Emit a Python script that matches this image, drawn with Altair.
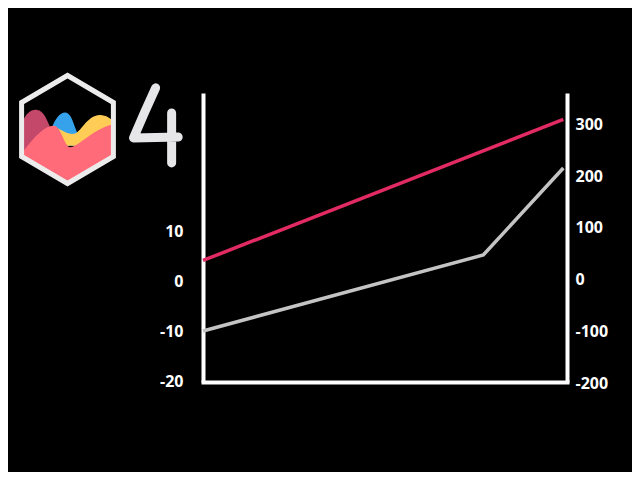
import altair as alt
import pandas as pd

# ---- data ----
x_points = [0, 77, 99]
grey_values = [-10, 5.2, 22.6]        # left axis
red_x = [0, 99]
red_values = [33.5, 305]              # right axis
left_ticks = [-20, -10, 0, 10]
right_ticks = [-200, -100, 0, 100, 200, 300]

grey_df = pd.DataFrame({"x": x_points, "v": grey_values})
red_df = pd.DataFrame({"x": red_x, "v": red_values})
one = pd.DataFrame({"a": [0]})

W, H = 364, 289

x_scale = alt.Scale(domain=[0, 100], nice=False, zero=False)
x_axis = alt.Axis(title=None, labels=False, ticks=False, grid=False,
                  domainColor="white", domainWidth=4, domainCap="square")

label_style = dict(labelColor="white", labelFont="Open Sans", labelFontWeight="bold",
                   labelFontSize=16, labelFlush=False, labelOverlap=False, labelBound=False,
                   labelExpr="datum.value < 0 ? '-' + abs(datum.value) : '' + datum.value")

grey = alt.Chart(grey_df).mark_line(color="#c4c4c4", strokeWidth=3.5).encode(
    x=alt.X("x:Q", scale=x_scale, axis=x_axis),
    y=alt.Y("v:Q", scale=alt.Scale(domain=[-20.2, 37.6], nice=False, zero=False),
            axis=alt.Axis(orient="left", values=left_ticks, title=None, ticks=False, grid=False,
                          domainColor="white", domainWidth=4, labelPadding=20, **label_style)),
)

red = alt.Chart(red_df).mark_line(color="#e22a63", strokeWidth=3.5).encode(
    x=alt.X("x:Q", scale=x_scale, axis=x_axis),
    y=alt.Y("v:Q", scale=alt.Scale(domain=[-200.5, 356], nice=False, zero=False),
            axis=alt.Axis(orient="right", values=right_ticks, title=None, ticks=False, grid=False,
                          domainColor="white", domainWidth=4, labelPadding=8,
                          labelOffset=2, **label_style)),
)

# ---- decorative Chart.js logo (shapes in unit space) ----
HEX = "M 0 -1 L 0.85 -0.5 L 0.85 0.5 L 0 1 L -0.85 0.5 L -0.85 -0.5 Z"
MAROON = ("M -0.85 -0.1 C -0.75 -0.38, -0.6 -0.4, -0.5 -0.34 "
          "C -0.4 -0.27, -0.36 -0.12, -0.3 0.0 L -0.3 0.3 L -0.85 0.5 Z")
BLUE = ("M -0.3 0.0 C -0.2 -0.3, -0.02 -0.42, 0.08 -0.2 "
        "C 0.12 -0.1, 0.15 0.0, 0.2 0.1 L 0.2 0.3 L -0.3 0.3 Z")
YELLOW = ("M -0.3 -0.05 C -0.15 -0.05, -0.05 0.1, 0.12 0.08 "
          "C 0.25 0.06, 0.35 -0.26, 0.6 -0.27 C 0.72 -0.27, 0.8 -0.2, 0.85 -0.15 "
          "L 0.85 0.3 L -0.3 0.3 Z")
PINK = ("M -0.85 0.45 C -0.6 0.1, -0.4 -0.08, -0.25 -0.07 "
        "C -0.12 -0.06, -0.05 0.33, 0.05 0.33 C 0.2 0.33, 0.45 0.0, 0.85 -0.1 "
        "L 0.85 0.5 L 0 1 L -0.85 0.5 Z")
FOUR = "M 0.04 -0.93 Q -0.25 -0.3 -0.5 0.29 L 0.59 0.27 M 0.43 -0.32 L 0.43 0.9"

lx, ly, lsize = -135.5, 36.5, 108 ** 2


def logo_part(path, color):
    return alt.Chart(one).mark_point(shape=path, size=lsize, filled=True, fill=color,
                                     strokeWidth=0, opacity=1).encode(
        x=alt.value(lx), y=alt.value(ly))


logo = [
    logo_part(MAROON, "#c4486a"),
    logo_part(BLUE, "#36a2eb"),
    logo_part(YELLOW, "#ffcd56"),
    logo_part(PINK, "#ff6b78"),
    alt.Chart(one).mark_point(shape=HEX, size=lsize, filled=False, stroke="#ececec",
                              strokeWidth=5, opacity=1, strokeJoin="miter").encode(
        x=alt.value(lx), y=alt.value(ly)),
    alt.Chart(one).mark_point(shape=FOUR, size=82 ** 2, filled=False, stroke="#e6e6e9",
                              strokeWidth=9, opacity=1, strokeCap="round",
                              strokeJoin="round").encode(
        x=alt.value(-49), y=alt.value(33)),
]

chart = alt.layer(grey, red, *logo).resolve_scale(y="independent").properties(
    width=W, height=H,
    autosize=alt.AutoSizeParams(type="none"),
    padding={"left": 195, "top": 85, "right": 65, "bottom": 90},
    background="black",
).configure_view(stroke=None)

chart.save("out.html", embed_options={"renderer": "svg", "actions": False})
